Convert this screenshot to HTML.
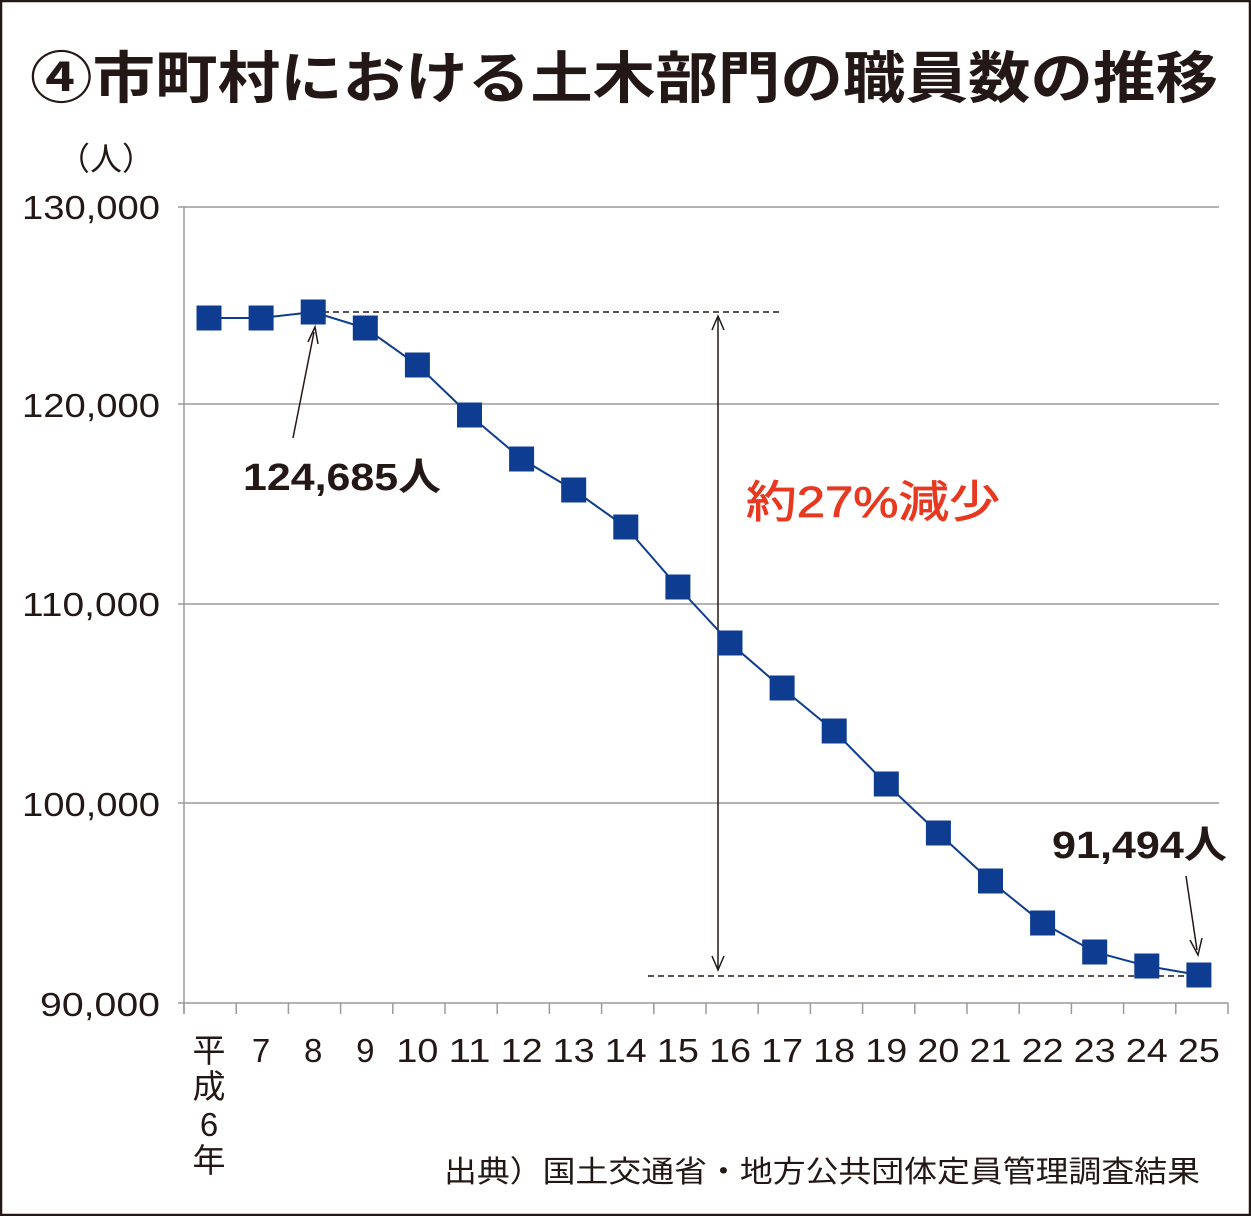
<!DOCTYPE html>
<html><head><meta charset="utf-8"><style>
html,body{margin:0;padding:0;background:#fff}
svg{display:block}
text{font-family:"Liberation Sans","Noto Sans CJK JP",sans-serif}
</style></head><body>
<svg width="1251" height="1216" viewBox="0 0 1251 1216" xmlns="http://www.w3.org/2000/svg">
<rect x="1" y="1" width="1249" height="1214" fill="#fff" stroke="#231815" stroke-width="2.5"/>
<text x="30" y="98" font-size="56" font-weight="bold" fill="#231815" textLength="1188" lengthAdjust="spacingAndGlyphs">④市町村における土木部門の職員数の推移</text>
<text x="58" y="170" font-size="32" fill="#231815">（人）</text>
<g fill="#231815" font-size="33" text-anchor="end">
<text x="160" y="219" textLength="138" lengthAdjust="spacingAndGlyphs">130,000</text>
<text x="160" y="417" textLength="138" lengthAdjust="spacingAndGlyphs">120,000</text>
<text x="160" y="616" textLength="138" lengthAdjust="spacingAndGlyphs">110,000</text>
<text x="160" y="816" textLength="138" lengthAdjust="spacingAndGlyphs">100,000</text>
<text x="160" y="1016" textLength="120" lengthAdjust="spacingAndGlyphs">90,000</text>
</g>
<g stroke="#9a9a9a" stroke-width="1.5">
<line x1="178" y1="207" x2="1219" y2="207"/>
<line x1="178" y1="404" x2="1219" y2="404"/>
<line x1="178" y1="604" x2="1219" y2="604"/>
<line x1="178" y1="803" x2="1219" y2="803"/>
<line x1="178" y1="1003" x2="1228" y2="1003"/>
<line x1="184" y1="207" x2="184" y2="1014"/>
</g>
<g stroke="#9a9a9a" stroke-width="1.5" id="ticks"></g>
<g fill="#231815" font-size="33" text-anchor="middle" id="xl">
<text x="209" y="1062">平</text><text x="209" y="1098">成</text><text x="209" y="1136">6</text><text x="209" y="1172">年</text>
</g>
<line x1="313" y1="312" x2="780" y2="312" stroke="#231815" stroke-width="1.5" stroke-dasharray="6,4"/>
<line x1="648" y1="976" x2="1200" y2="976" stroke="#231815" stroke-width="1.5" stroke-dasharray="6,4"/>
<line x1="718" y1="318" x2="718" y2="968" stroke="#231815" stroke-width="1.5"/>
<path d="M712 330 L718 316 L724 330 M712 956 L718 970 L724 956" fill="none" stroke="#231815" stroke-width="1.5"/>
<line x1="293" y1="438" x2="314" y2="332" stroke="#231815" stroke-width="1.5"/>
<path d="M308 342 L315 327 L318 344" fill="none" stroke="#231815" stroke-width="1.5"/>
<line x1="1186" y1="876" x2="1197" y2="950" stroke="#231815" stroke-width="1.5"/>
<path d="M1190 940 L1198 955 L1202 938" fill="none" stroke="#231815" stroke-width="1.5"/>
<polyline id="ln" fill="none" stroke="#0d3c91" stroke-width="2"/>
<g id="mk" fill="#0d3c91"></g>
<text x="243" y="490" font-size="38" font-weight="bold" fill="#231815" textLength="198" lengthAdjust="spacingAndGlyphs">124,685人</text>
<text x="1052" y="858" font-size="38" font-weight="bold" fill="#231815" textLength="175" lengthAdjust="spacingAndGlyphs">91,494人</text>
<text x="746" y="517" font-size="44" fill="#e83820" stroke="#e83820" stroke-width="0.8" textLength="254" lengthAdjust="spacingAndGlyphs">約27%減少</text>
<text x="444" y="1182" font-size="30" fill="#231815" font-family="'Noto Serif CJK SC',serif" textLength="756" lengthAdjust="spacingAndGlyphs">出典）国土交通省・地方公共団体定員管理調査結果</text>
<script>
var ys=[318,318,312,328,365,415,459,490,527,587,643,688,731,784,833,881,923,952,966,975];
var ns="http://www.w3.org/2000/svg",pts=[],mk=document.getElementById('mk'),tk=document.getElementById('ticks'),xl=document.getElementById('xl');
for(var i=0;i<=20;i++){var tx=184+52.2*i;var l=document.createElementNS(ns,'line');l.setAttribute('x1',tx);l.setAttribute('x2',tx);l.setAttribute('y1',1003);l.setAttribute('y2',1014);tk.appendChild(l);}
for(var i=0;i<20;i++){var x=209+52.1*i;pts.push(x+','+ys[i]);
var r=document.createElementNS(ns,'rect');r.setAttribute('x',x-12.5);r.setAttribute('y',ys[i]-12.5);r.setAttribute('width',25);r.setAttribute('height',25);mk.appendChild(r);
if(i>0){var t=document.createElementNS(ns,'text');t.setAttribute('x',x);t.setAttribute('y',1062);if(i>=4){t.setAttribute('textLength',42);t.setAttribute('lengthAdjust','spacingAndGlyphs');}t.textContent=String(i+6);xl.appendChild(t);}}
document.getElementById('ln').setAttribute('points',pts.join(' '));
</script>
</svg>
</body></html>
